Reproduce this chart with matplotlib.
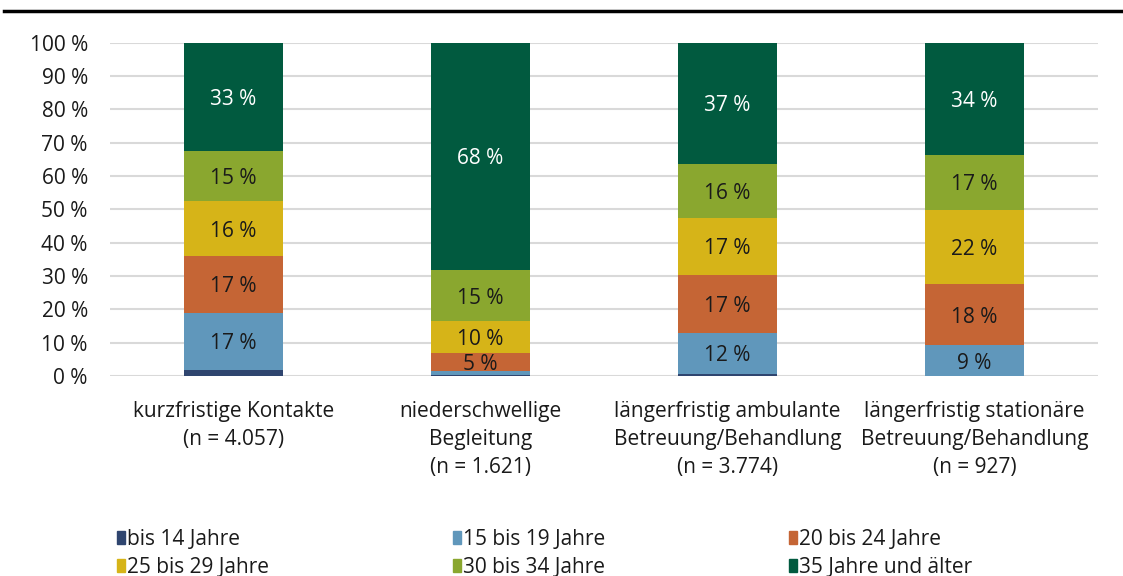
import matplotlib
matplotlib.use("Agg")
from matplotlib import pyplot as plt
from matplotlib.lines import Line2D
from matplotlib.patches import Rectangle

categories = ['kurzfristige Kontakte\n(n = 4.057)',
              'niederschwellige\nBegleitung\n(n = 1.621)',
              'längerfristig ambulante\nBetreuung/Behandlung\n(n = 3.774)',
              'längerfristig stationäre\nBetreuung/Behandlung\n(n = 927)']
age_groups = ['bis 14 Jahre', '15 bis 19 Jahre', '20 bis 24 Jahre',
              '25 bis 29 Jahre', '30 bis 34 Jahre', '35 Jahre und älter']
bis14 = [1.8, 0.2, 0.6, 0.1]
a15_19 = [17.2, 1.4, 12.4, 9.1]
a20_24 = [17.1, 5.2, 17.3, 18.3]
a25_29 = [16.3, 9.7, 17.2, 22.3]
a30_34 = [15.1, 15.3, 16.0, 16.6]
a35plus = [32.6, 68.2, 36.6, 33.7]
colors = ['#2F456F', '#6097BB', '#C56535', '#D6B418', '#8AA72F', '#015A3F']
series = [bis14, a15_19, a20_24, a25_29, a30_34, a35plus]

plt.rcParams['font.family'] = ['Open Sans', 'DejaVu Sans']
fs = 15

fig = plt.figure(figsize=(11.23, 5.76), dpi=100)
ax = fig.add_axes([110 / 1123, 1 - 376 / 576, 988 / 1123, (376 - 42.7) / 576])

x = range(len(categories))
bottom = [0] * len(categories)
for vals, col in zip(series, colors):
    ax.bar(x, vals, 0.4, bottom=bottom, color=col, zorder=3)
    for i, v in enumerate(vals):
        if v >= 4:
            tc = 'white' if col == '#015A3F' else '#1a1a1a'
            ax.text(i, bottom[i] + v / 2, f'{round(v)} %', ha='center',
                    va='center_baseline', color=tc, fontsize=fs, zorder=4)
    bottom = [b + v for b, v in zip(bottom, vals)]

ax.set_xlim(-0.5, 3.5)
ax.set_ylim(0, 100)
ax.set_yticks(range(0, 101, 10))
ax.set_yticklabels([f'{t} %' for t in range(0, 101, 10)])
ax.yaxis.grid(True, color='#D9D9D9', linewidth=1.5, zorder=0)
ax.set_xticks(list(x))
ax.set_xticklabels(categories, linespacing=1.45, va='top')
for s in ax.spines.values():
    s.set_visible(False)
ax.tick_params(axis='both', length=0, labelsize=fs, colors='#1a1a1a')
ax.tick_params(axis='y', pad=16)
ax.tick_params(axis='x', pad=18)

# top rule
fig.add_artist(Line2D([4 / 1123, 1], [1 - 11 / 576] * 2, color='black', linewidth=2.5))

# legend
for i, (lab, col) in enumerate(zip(age_groups, colors)):
    cx = (117 + (i % 3) * 336) / 1123
    cy = 1 - (537 + (i // 3) * 28) / 576
    fig.add_artist(Rectangle((cx, cy - 6.5 / 576), 8 / 1123, 13 / 576,
                             color=col, transform=fig.transFigure))
    fig.text(cx + 10 / 1123, cy, lab, va='center_baseline', ha='left',
             fontsize=fs, color='#1a1a1a')

fig.savefig('out.png', dpi=100)
